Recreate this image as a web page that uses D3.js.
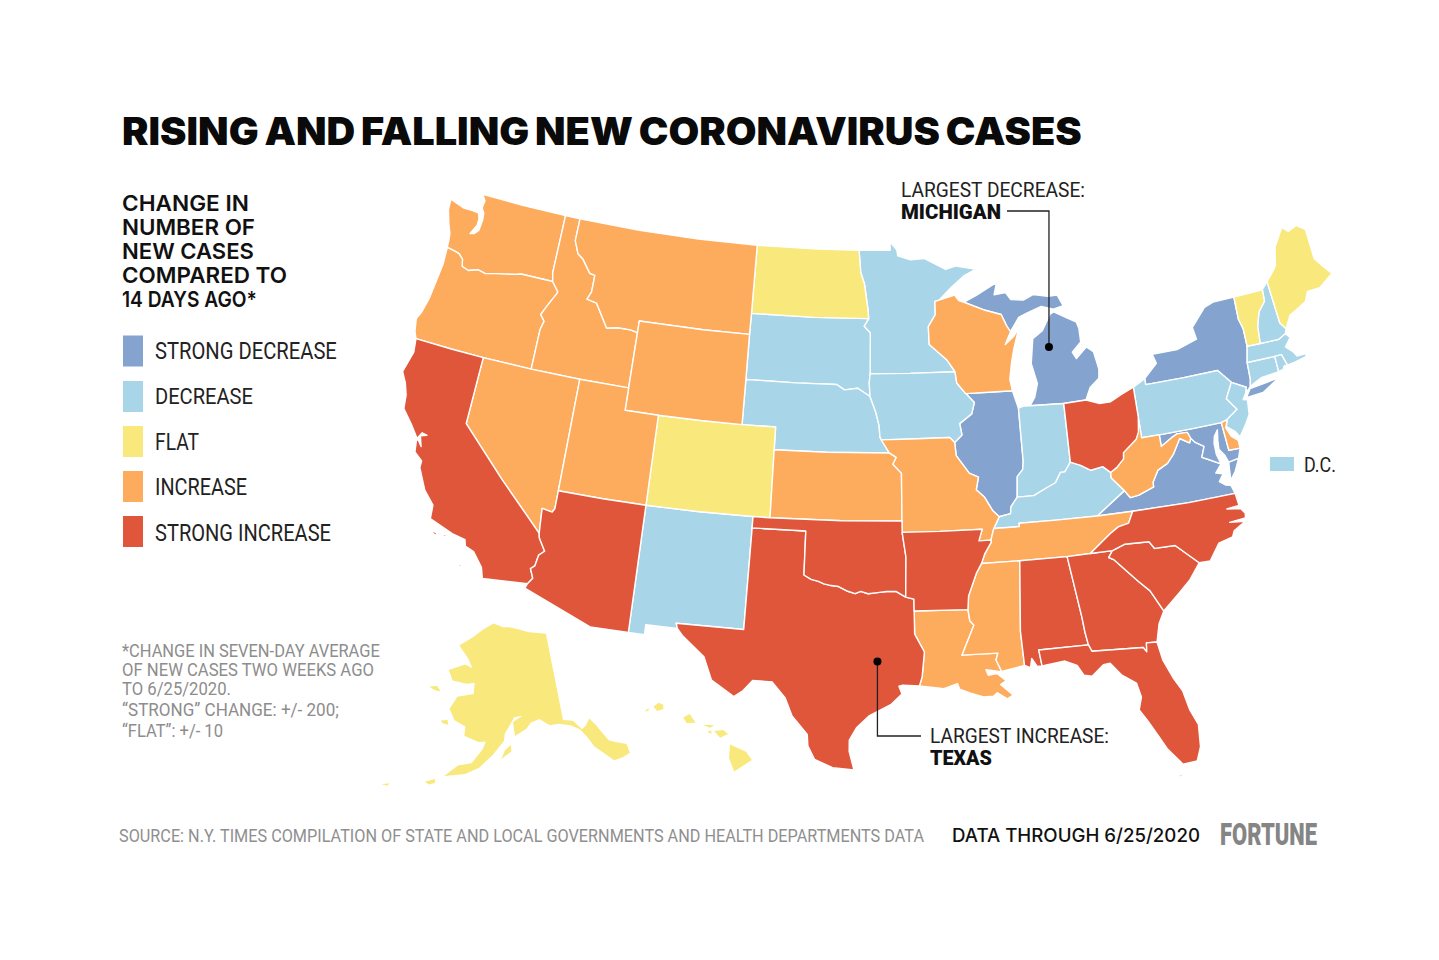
<!DOCTYPE html>
<html><head><meta charset="utf-8">
<script src="https://cdn.jsdelivr.net/npm/d3@7/dist/d3.min.js"></script>
<style>html,body{margin:0;padding:0;background:#fff}svg{display:block}</style>
</head><body><svg id="c" width="1439" height="960"></svg>
<script>
// ---------- status categories ----------
const statusLabels=["STRONG DECREASE","DECREASE","FLAT","INCREASE","STRONG INCREASE"];
const statusColors=["#84a4cf","#a8d5e8","#f9e87c","#fdab5c","#e0563b"];
const strongDecrease=["IL","MI","NY","VA","MD"];
const decrease=["MN","SD","NE","IA","NM","IN","KY","PA","NJ","CT","MA","RI","NH"];
const flat=["ND","CO","ME","VT","AK","HI"];
const increase=["WA","OR","ID","MT","WY","NV","UT","KS","MO","WI","WV","DE","TN","LA","MS"];
const strongIncrease=["CA","AZ","TX","OK","AR","AL","GA","SC","NC","FL","OH"];
const titleText="RISING AND FALLING NEW CORONAVIRUS CASES";
const headingLines=["CHANGE IN","NUMBER OF","NEW CASES","COMPARED TO","14 DAYS AGO*"];
const footnoteLines=["*CHANGE IN SEVEN-DAY AVERAGE","OF NEW CASES TWO WEEKS AGO","TO 6/25/2020.","\u201CSTRONG\u201D CHANGE: +/- 200;","\u201CFLAT\u201D: +/- 10"];

// ---------- boundary arcs: "west-longitude,latitude" ----------
const arcText={
wa_n:"122.76,49 120,49 117.04,49",
wa_coast:"122.76,49 122.5,48.75 122.55,48.4 122.35,48.2 122.3,47.9 122.35,47.4 122.6,47.2 122.85,47.15 122.55,47.6 122.55,47.9 122.7,48.15 123.1,48.17 123.7,48.17 124.7,48.38 124.65,47.9 124.35,47.3 124.1,46.9 124.05,46.65 124,46.27",
wa_or:"124,46.27 123.4,46.2 123.15,46.15 122.85,45.95 122.75,45.65 122.3,45.55 121.7,45.7 121.2,45.62 120.6,45.73 120,45.82 119.3,45.93 119,46 116.92,46",
wa_id:"116.92,46 117.04,46.4 117.04,49",
or_coast:"124,46.27 123.95,45.5 124.05,44.7 124.15,43.9 124.35,43.2 124.55,42.85 124.4,42.3 124.21,42",
or_ca:"124.21,42 122,42 120,42",
or_nv:"120,42 117.03,42",
or_id:"117.03,42 117.03,43.8 116.9,44.2 117.2,44.45 116.85,45 116.5,45.5 116.46,45.6 116.92,46",
ca_coast:"124.21,42 124.1,41.4 124.4,40.45 124.05,40 123.8,39.5 123.7,38.9 123,38.3 122.5,37.8 122.3,38.1 122,38.05 122.35,37.95 122.15,37.5 122.4,37.75 122.5,37.72 122.4,37.2 121.9,36.9 121.9,36.6 121.3,35.7 120.65,35.15 120.6,34.55 119.25,34.15 118.5,34.03 118.4,33.75 117.9,33.6 117.3,33 117.12,32.53",
ca_nv:"120,42 120,39 117.3,37 114.63,35",
ca_az:"114.63,35 114.57,34.8 114.15,34.27 114.43,34.05 114.52,33.55 114.72,33.4 114.5,33 114.72,32.72",
ca_mx:"114.72,32.72 117.12,32.53",
nv_id:"117.03,42 114.04,42",
nv_ut:"114.04,42 114.04,37",
nv_az:"114.04,37 114.04,36.2 114.15,36.03 114.74,36.1 114.63,35",
ut_az:"114.04,37 111.5,37 109.05,37",
az_nm:"109.05,37 109.05,31.33",
az_mx:"109.05,31.33 111.07,31.33 114.81,32.5 114.72,32.72",
ut_co:"109.05,41 109.05,37",
ut_wy:"111.05,42 111.05,41 109.05,41",
id_ut:"111.05,42 114.04,42",
id_wy:"111.05,44.48 111.05,42",
id_mt:"116.05,49 116.05,48 115.7,47.45 115.3,47.25 114.7,46.7 114.35,46.65 114.35,45.9 114.55,45.55 113.9,45.45 113.45,44.95 113,44.45 112.3,44.55 111.5,44.55 111.05,44.48",
id_n:"117.04,49 116.05,49",
mt_wy:"111.05,44.48 111.05,45 107,45 104.06,45",
wy_sd:"104.06,45 104.05,43",
wy_ne:"104.05,43 104.05,41",
wy_co:"104.05,41 106.5,41 109.05,41",
mt_n:"116.05,49 112,49 108,49 104.05,49",
mt_nd:"104.05,49 104.05,45.94",
mt_sd:"104.05,45.94 104.06,45",
nd_n:"104.05,49 100,49 97.23,49",
nd_mn:"97.23,49 97.1,48 96.85,47.5 96.6,46.3 96.56,45.94",
nd_sd:"96.56,45.94 100,45.94 104.05,45.94",
sd_mn:"96.56,45.94 96.85,45.6 96.45,45.3 96.45,43.5",
sd_ia:"96.45,43.5 96.5,43.1 96.45,42.49",
sd_ne:"96.45,42.49 97.2,42.85 98,42.77 98.5,43 101,43 104.05,43",
ne_ia:"96.45,42.49 96.1,41.8 95.9,41.2 95.85,40.7 95.77,40.58",
ne_mo:"95.77,40.58 95.31,40",
ne_ks:"95.31,40 99,40 102.05,40",
ne_co:"104.05,41 102.05,41 102.05,40",
ks_co:"102.05,40 102.04,37",
ok_co:"102.04,37 103,37",
nm_co:"103,37 106,37 109.05,37",
ks_mo:"95.31,40 94.9,39.8 95.1,39.5 94.61,39.1 94.62,37",
ks_ok:"94.62,37 98,37 102.04,37",
nm_ok:"103,37 103,36.5",
ok_tx:"103,36.5 100,36.5 100,34.56 99.6,34.38 99.2,34.3 98.9,34.2 98.6,34.15 98.1,34.1 97.6,33.9 97.2,33.8 96.9,33.9 96.5,33.8 96,33.85 95.5,33.9 95,33.9 94.48,33.64",
ok_ar:"94.48,33.64 94.43,35.4 94.62,36.5",
ok_mo:"94.62,36.5 94.62,37",
nm_tx:"103,36.5 103.05,32 106.62,32 106.53,31.78",
nm_mx:"106.53,31.78 108.2,31.78 108.2,31.33 109.05,31.33",
tx_mx:"106.53,31.78 106.2,31.47 105,30.65 104.7,30.05 104.5,29.65 103.3,29 102.85,29.3 102.4,29.78 101.4,29.77 100.7,29.1 100.3,28.3 99.5,27.5 99.45,27 99.1,26.4 98.2,26.05 97.15,25.96",
tx_coast:"97.15,25.96 97.4,26.8 97.4,27.3 97.05,27.85 96.4,28.4 95.3,28.9 94.75,29.35 94.9,29.7 94.7,29.75 93.85,29.7",
tx_la:"93.85,29.7 93.7,30.1 93.55,31.2 94.04,32 94.04,33.02",
tx_ar:"94.04,33.02 94.04,33.55 94.48,33.64",
ar_la:"94.04,33.02 91.17,33",
ar_ms:"91.17,33 91.1,33.6 90.6,34.6 90.3,35",
ar_tn:"90.3,35 90.1,35.4 89.7,35.9 89.7,36",
mo_ar:"89.7,36 90.37,36 90.15,36.5 92.5,36.5 94.62,36.5",
mo_tn:"89.7,36 89.5,36.5",
mo_ky:"89.5,36.5 89.15,37",
mo_il:"89.15,37 89.5,37.3 89.9,37.9 90.35,38.25 90.18,38.8 90.7,39 91.4,39.8 91.45,40.38",
ia_mo:"91.45,40.38 91.73,40.61 94,40.6 95.77,40.58",
ia_il:"91.45,40.38 91,40.7 91.1,41.2 90.35,41.6 90.15,42.1 90.64,42.51",
ia_wi:"90.64,42.51 91.15,43 91.22,43.5",
mn_ia:"91.22,43.5 94,43.5 96.45,43.5",
mn_wi:"91.22,43.5 91.7,44.05 92.75,44.75 92.77,45.55 92.3,46.07 92.29,46.66 92.02,46.71",
mn_lake:"92.02,46.71 91.2,47.25 90.3,47.75 89.5,48",
mn_n:"89.5,48 90.8,48.2 91.5,48.07 92.9,48.6 93.8,48.55 94.65,48.75 94.7,49 95.15,49.38 95.15,49 97.23,49",
wi_sup:"92.02,46.71 91,46.9 90.75,46.65 90.42,46.56",
wi_mi:"90.42,46.56 89.1,46.14 88.1,45.9 87.8,45.35 87.6,45.1",
wi_lake:"87.6,45.1 88,44.55 87.4,44.9 87.05,45.25 87.5,44.3 87.7,43.75 87.9,43 87.8,42.49",
wi_il:"87.8,42.49 89,42.5 90.64,42.51",
il_lake:"87.8,42.49 87.55,41.75 87.53,41.7",
il_in:"87.53,41.7 87.53,39.35 87.6,39 87.95,38.7 88.05,37.8",
il_ky:"88.05,37.8 88.45,37.4 88.5,37.1 89.15,37",
in_lake:"87.53,41.7 87.2,41.77 86.82,41.76",
in_mi:"86.82,41.76 84.8,41.7",
in_oh:"84.8,41.7 84.82,39.1",
in_ky:"84.82,39.1 85.2,38.7 85.45,38.7 85.8,38.27 86.3,38.1 87.1,37.8 88.05,37.8",
oh_mi:"84.8,41.7 83.45,41.73",
oh_lake:"83.45,41.73 82.7,41.5 82,41.5 81.3,41.75 80.52,41.98",
oh_pa:"80.52,41.98 80.52,40.64",
oh_wv:"80.52,40.64 80.65,40 80.85,39.7 81.7,39.2 81.75,38.93 82.2,38.6 82.6,38.42",
oh_ky:"82.6,38.42 83,38.72 83.7,38.63 84.25,38.9 84.82,39.1",
ky_wv:"82.6,38.42 82.6,38.17 81.97,37.54",
ky_va:"81.97,37.54 83.68,36.6",
ky_tn:"83.68,36.6 86,36.63 88.07,36.65 88.07,36.5 89.5,36.5",
tn_va:"83.68,36.6 81.68,36.59",
tn_nc:"81.68,36.59 82,36.1 82.6,36 83.1,35.75 84.32,35",
tn_ga:"84.32,35 85.6,34.98",
tn_al:"85.6,34.98 88.2,35",
tn_ms:"88.2,35 90.3,35",
ms_al:"88.2,35 88.47,31.9 88.4,30.37",
ms_coast:"88.4,30.37 89.6,30.18",
la_ms:"91.17,33 91.1,32.5 90.9,32.3 91.6,31 89.73,31 89.85,30.7 89.6,30.18",
la_coast:"89.6,30.18 89.8,30.2 90.4,30.3 90.3,30.05 89.85,30.1 89.4,29.75 89.7,29.6 89.1,29.1 89.4,28.95 89.9,29.25 90.1,29.1 90.6,29.1 91.25,29.3 91.8,29.5 91.9,29.75 92.6,29.55 93.85,29.7",
al_ga:"85.6,34.98 85.18,32.3 85.1,31.55 85,31",
al_fl:"85,31 87.6,31 87.5,30.28",
al_coast:"87.5,30.28 87.75,30.28 88,30.65 88.1,30.25 88.4,30.37",
ga_nc:"84.32,35 83.1,35",
ga_sc:"83.1,35 83.35,34.72 83.1,34.6 81.95,33.5 81.4,33 80.85,32.03",
ga_coast:"80.85,32.03 81.2,31.5 81.45,30.72",
ga_fl:"81.45,30.72 82,30.75 82.05,30.36 82.2,30.57 84.86,30.7 85,31",
fl_coast:"81.45,30.72 81.3,29.9 80.9,29 80.55,28.4 80.35,27.5 80.05,26.8 80.13,25.8 80.4,25.2 81.1,25.15 81.75,25.95 82.1,26.6 82.5,27.3 82.85,27.85 82.65,28.4 82.8,29.05 83.5,29.5 84,30.08 84.35,30.05 85,29.6 85.4,29.68 85.7,30.15 86.3,30.4 87.5,30.28",
sc_nc:"83.1,35 82.4,35.2 81.05,35.15 80.8,34.82 79.67,34.8 78.55,33.86",
sc_coast:"78.55,33.86 79.2,33.2 79.9,32.7 80.85,32.03",
nc_coast:"78.55,33.86 77.95,33.85 77.3,34.55 76.5,34.7 76.35,34.95 75.65,35.25 76.5,35.35 75.6,35.4 75.55,35.6 75.75,35.85 76.5,35.95 75.8,36 75.87,36.55",
nc_va:"75.87,36.55 78.5,36.55 81.68,36.59",
va_wv:"81.97,37.54 81.7,37.2 81.2,37.25 80.3,37.5 80.3,37.7 79.9,38.2 79.3,38.42 78.87,38.77 78.35,39.4 77.83,39.13 77.72,39.32",
va_md:"77.72,39.32 77.5,39.1 77.05,38.85 77.3,38.4 76.95,38.25 76.3,37.95",
va_coast:"76.3,37.95 76.7,37.6 76.3,37.5 76.6,37.2 76.3,37 76,36.93 75.87,36.55",
wv_md:"77.72,39.32 77.85,39.6 78.45,39.62 78.8,39.5 79.48,39.2 79.48,39.72",
wv_pa:"79.48,39.72 80.52,39.72 80.52,40.64",
md_pa:"79.48,39.72 77.5,39.72 75.79,39.72",
md_de:"75.79,39.72 75.7,38.46 75.05,38.45",
md_coast:"75.05,38.45 75.25,38.03 75.85,37.95",
md_bay:"75.85,37.95 76,38.3 76.25,38.6 76.2,39 76.1,39.45 76.35,39.2 76.45,38.9 76.45,38.4 76.3,37.95",
va_shore:"75.95,37.15 75.9,37.6 75.85,37.95 75.25,38.03 75.6,37.5 75.95,37.15",
de_pa:"75.79,39.72 75.42,39.8",
de_coast:"75.42,39.8 75.6,39.45 75.4,39.05 75.05,38.8 75.05,38.45",
pa_nj:"75.42,39.8 75.13,39.95 74.72,40.15 75.2,40.7 74.7,41.36",
pa_ny:"74.7,41.36 75.35,42 77.5,42 79.76,42 79.76,42.27",
pa_lake:"79.76,42.27 80.52,41.98",
nj_coast:"75.42,39.8 75.55,39.5 75.1,39.2 74.9,38.93 74.4,39.45 74.1,39.8 74,40.45 74.25,40.5 74.02,40.75 73.9,41",
nj_ny:"73.9,41 74.7,41.36",
ny_lake:"79.76,42.27 78.9,42.85 79.05,43.27 77.5,43.27 76.2,43.55 76.3,44.1 75.3,44.85 74.7,45 73.35,45.01",
ny_vt:"73.35,45.01 73.4,44 73.25,43.55 73.27,42.75",
ny_ma:"73.27,42.75 73.5,42.05",
ny_ct:"73.5,42.05 73.55,41.3 73.65,41",
ny_coast:"73.65,41 74,40.75 73.9,41",
long_island:"74.03,40.55 73,40.6 71.87,41.07 72.6,41 73.7,40.9 74.03,40.55",
ct_ma:"73.5,42.05 71.8,42.02",
ct_ri:"71.8,42.02 71.8,41.32",
ct_coast:"71.8,41.32 72.9,41.25 73.65,41",
ri_ma:"71.8,42.02 71.38,42.02 71.2,41.5",
ri_coast:"71.2,41.5 71.4,41.5 71.5,41.37 71.8,41.32",
ma_vt:"73.27,42.75 72.46,42.73",
ma_nh:"72.46,42.73 71.3,42.7 70.82,42.87",
ma_coast:"70.82,42.87 70.6,42.65 71.03,42.3 70.65,42 70.5,41.78 70,41.78 70.05,42.05 70.25,42.07 69.95,41.9 69.97,41.65 70.65,41.55 71.2,41.5",
vt_n:"73.35,45.01 71.5,45.01",
vt_nh:"71.5,45.01 71.55,44.5 72.05,44.1 72.35,43.5 72.46,42.73",
nh_n:"71.5,45.01 71.08,45.3",
nh_me:"71.08,45.3 70.98,43.4 70.7,43.07",
nh_coast:"70.7,43.07 70.82,42.87",
me_coast:"70.7,43.07 70.25,43.6 69.8,43.75 69.1,44 68.8,44.4 68,44.4 67,44.85 67.45,45.3 67.8,45.7 67.8,47.07 68.3,47.36 68.9,47.2 69.23,47.46 70,46.7 70.3,45.9 70.4,45.8 71.08,45.3",
mi_up:"87.6,45.1 87,45.7 86.5,45.85 85.5,46.08 84.75,45.9 84.1,46 84.4,46.5 85,46.5 85.95,46.65 86.6,46.45 87.4,46.52 87.7,46.85 88.45,46.8 88.2,47.4 87.8,47.47 88.6,47.2 89.6,46.83 90.42,46.56",
mi_lp:"83.45,41.73 83.1,42.25 82.5,42.6 82.42,43 82.6,43.8 83,44.05 83.7,43.6 83.9,43.9 83.3,44.3 83.3,44.9 83.4,45.2 84.1,45.5 84.75,45.78 85,45.7 85.6,45 86.25,44.7 86.5,43.6 86.25,42.7 86.5,42.1 86.82,41.76",
ak_main:"141,69.65 141,60.3 139,60 137.5,58.9 136.5,59.2 135.5,59.8 134.5,58.9 133.8,58 133,57 131.9,56.6 130,56 130,55 131.5,54.8 133.2,54.8 134.5,55.8 136,56.8 136.9,58 138,59 139.7,59.6 142,60 144,60 146,60.8 148,60.5 149,59.9 151.5,59.2 151.8,60.7 150,61.2 149.7,61.3 151.5,61.2 152.6,60.3 153.6,59.5 153.8,58.7 156,57.2 158.5,55.8 161,55 163.3,54.7 164.8,54.5 162.5,55.8 160,56.2 158,57.8 157.5,58.6 159,58.5 162,59 162,60 164.5,60.5 166,61.6 164.7,63 161,63.5 161,64.7 163,64.5 166.5,64.6 168,65.6 164,66.5 162,66.2 163.5,67.2 166.5,68.4 163,69.5 160,70.5 157,71.2 154,70.8 152,70.8 149,70.5 146,70.1 141,69.65",
ak_kodiak:"154.3,56.8 152.3,57.6 152.4,58.3 153.6,57.7 154.3,56.8",
ak_stl:"171.7,63.4 170,63.7 168.8,63.2 170.3,63.2 171.7,63.4",
ak_nuni:"167.4,60.2 166,60.4 165.7,59.9 166.9,59.95 167.4,60.2",
ak_unal:"168,53.5 166.3,54 166.2,53.6 167.2,53.3 168,53.5",
ak_atka:"175.2,52.05 174,52.4 174.1,52.1 175.2,52.05",
hi_big:"155.9,20.25 155.1,19.9 154.8,19.5 155.7,18.95 155.95,19.6 155.9,20.25",
hi_maui:"156.7,20.9 156.25,20.95 156,20.75 156.4,20.58 156.7,20.9",
hi_lana:"157.05,20.88 156.85,20.92 156.85,20.75 157.05,20.88",
hi_molo:"157.3,21.2 156.7,21.17 156.9,21.05 157.3,21.2",
hi_oahu:"158.28,21.55 157.95,21.72 157.65,21.3 158.1,21.28 158.28,21.55",
hi_kaua:"159.8,22.05 159.55,22.25 159.3,22.15 159.3,21.95 159.6,21.85 159.8,22.05",
hi_niih:"160.25,21.8 160.05,22 160.05,21.85 160.25,21.8",
ca_cruz:"120,34 119.5,34.05 119.6,33.95 120,34",
ca_rosa:"120.5,34.05 120.05,34.02 120.1,33.9 120.5,34.05",
ca_cat:"118.6,33.48 118.35,33.4 118.35,33.32 118.6,33.48",
ca_clem:"118.6,33.03 118.35,32.85 118.45,32.8 118.6,33.03",
fl_keys:"81.8,24.55 81.3,24.7 80.6,25 81.3,24.62 81.8,24.55"
};

// ---------- state rings, each a chain of arcs ----------
const stateRings={
WA:[["wa_n","wa_coast","wa_or","wa_id"]],
OR:[["wa_or","or_coast","or_ca","or_nv","or_id"]],
CA:[["or_ca","ca_coast","ca_mx","ca_az","ca_nv"],["ca_cruz"],["ca_rosa"],["ca_cat"],["ca_clem"]],
NV:[["or_nv","nv_id","nv_ut","nv_az","ca_nv"]],
ID:[["wa_id","id_n","id_mt","id_wy","id_ut","nv_id","or_id"]],
MT:[["mt_n","mt_nd","mt_sd","mt_wy","id_mt"]],
WY:[["mt_wy","id_wy","ut_wy","wy_co","wy_ne","wy_sd"]],
UT:[["id_ut","ut_wy","ut_co","ut_az","nv_ut"]],
AZ:[["ut_az","az_nm","az_mx","ca_az","nv_az"]],
CO:[["wy_co","ne_co","ks_co","ok_co","nm_co","ut_co"]],
NM:[["nm_co","nm_ok","nm_tx","nm_mx","az_nm"]],
ND:[["mt_nd","nd_n","nd_mn","nd_sd"]],
SD:[["nd_sd","sd_mn","sd_ia","sd_ne","wy_sd","mt_sd"]],
NE:[["sd_ne","ne_ia","ne_mo","ne_ks","ne_co","wy_ne"]],
KS:[["ne_ks","ks_mo","ks_ok","ks_co"]],
OK:[["ok_co","nm_ok","ok_tx","ok_ar","ok_mo","ks_ok"]],
TX:[["nm_tx","tx_mx","tx_coast","tx_la","tx_ar","ok_tx"]],
MN:[["mn_n","mn_lake","mn_wi","mn_ia","sd_mn","nd_mn"]],
IA:[["mn_ia","ia_wi","ia_il","ia_mo","ne_ia","sd_ia"]],
MO:[["ia_mo","ne_mo","ks_mo","ok_mo","mo_ar","mo_tn","mo_ky","mo_il"]],
AR:[["ok_ar","mo_ar","ar_tn","ar_ms","ar_la","tx_ar"]],
LA:[["ar_la","la_ms","la_coast","tx_la"]],
WI:[["mn_wi","wi_sup","wi_mi","wi_lake","wi_il","ia_wi"]],
IL:[["wi_il","il_lake","il_in","il_ky","mo_il","ia_il"]],
IN:[["in_lake","in_mi","in_oh","in_ky","il_in"]],
OH:[["in_oh","oh_mi","oh_lake","oh_pa","oh_wv","oh_ky"]],
KY:[["in_ky","il_ky","mo_ky","ky_tn","ky_va","ky_wv","oh_ky"]],
TN:[["ky_tn","mo_tn","ar_tn","tn_ms","tn_al","tn_ga","tn_nc","tn_va"]],
MS:[["ar_ms","tn_ms","ms_al","ms_coast","la_ms"]],
AL:[["tn_al","al_ga","al_fl","al_coast","ms_al"]],
GA:[["tn_ga","ga_nc","ga_sc","ga_coast","ga_fl","al_ga"]],
FL:[["al_fl","ga_fl","fl_coast"],["fl_keys"]],
SC:[["ga_sc","sc_nc","sc_coast"]],
NC:[["ga_nc","sc_nc","nc_coast","nc_va","tn_nc"]],
VA:[["nc_va","tn_va","ky_va","va_wv","va_md","va_coast"],["va_shore"]],
WV:[["oh_wv","ky_wv","va_wv","wv_md","wv_pa"]],
MD:[["wv_md","md_pa","md_de","md_coast","md_bay","va_md"]],
DE:[["md_de","de_pa","de_coast"]],
PA:[["oh_pa","wv_pa","md_pa","de_pa","pa_nj","pa_ny","pa_lake"]],
NJ:[["pa_nj","nj_coast","nj_ny"]],
NY:[["ny_lake","ny_vt","ny_ma","ny_ct","ny_coast","nj_ny","pa_ny"],["long_island"]],
CT:[["ny_ct","ct_ma","ct_ri","ct_coast"]],
RI:[["ct_ri","ri_ma","ri_coast"]],
MA:[["ny_ma","ma_vt","ma_nh","ma_coast","ri_ma","ct_ma"]],
VT:[["ny_vt","vt_n","vt_nh","ma_vt"]],
NH:[["vt_nh","nh_n","nh_me","nh_coast","ma_nh"]],
ME:[["nh_me","me_coast"]],
MI:[["wi_mi","mi_up"],["in_mi","oh_mi","mi_lp"]],
AK:[["ak_main"],["ak_kodiak"],["ak_stl"],["ak_nuni"],["ak_unal"],["ak_atka"]],
HI:[["hi_big"],["hi_maui"],["hi_lana"],["hi_molo"],["hi_oahu"],["hi_kaua"],["hi_niih"]]
};

// ---------- build geometry ----------
const arcs={};
for(const k in arcText) arcs[k]=arcText[k].trim().split(/\s+/).map(p=>{const [a,b]=p.split(",");return [-a,+b];});
const same=(a,b)=>Math.abs(a[0]-b[0])<1e-6&&Math.abs(a[1]-b[1])<1e-6;
function chain(names,state){
  let pts=arcs[names[0]].slice();
  if(names.length>1){const n=arcs[names[1]];
    if(!same(pts[pts.length-1],n[0])&&!same(pts[pts.length-1],n[n.length-1])) pts.reverse();}
  for(const nm of names.slice(1)){
    let a=arcs[nm].slice();const e=pts[pts.length-1];
    if(same(e,a[a.length-1])) a.reverse();
    else if(!same(e,a[0])) throw new Error("gap "+state+" "+nm);
    pts=pts.concat(a.slice(1));
  }
  if(!same(pts[0],pts[pts.length-1])) throw new Error("open "+state+" "+names);
  return pts;
}
function ringOK(r){const g={type:"Polygon",coordinates:[r]};return d3.geoArea(g)>2*Math.PI?r.slice().reverse():r;}
const groups=[strongDecrease,decrease,flat,increase,strongIncrease];
const features=[];
groups.forEach((g,i)=>g.forEach(s=>features.push({type:"Feature",id:s,properties:{status:i},
  geometry:{type:"MultiPolygon",coordinates:stateRings[s].map(n=>[ringOK(chain(n,s))])}})));

// ---------- projections ----------
function anchored(p,lonlat,xy){p.translate([0,0]);const q=p(lonlat);return p.translate([xy[0]-q[0],xy[1]-q[1]]);}
const projection=d3.geoConicEqualArea().rotate([96,0]).center([-0.6,38.7]).parallels([29.5,45.5]).scale(1289).translate([867,482.5]);
const akProjection=anchored(d3.geoConicEqualArea().rotate([154,0]).parallels([55,65]).scale(540),[-141,60.3],[563,720]);
const hiProjection=anchored(d3.geoConicEqualArea().rotate([157,0]).parallels([8,18]).scale(1200),[-155.5,19.6],[738,758]);
const paths={def:d3.geoPath(projection),AK:d3.geoPath(akProjection),HI:d3.geoPath(hiProjection)};

// ---------- draw ----------
const svg=d3.select("#c");
const color=d3.scaleOrdinal().domain(d3.range(5)).range(statusColors);
svg.append("g").selectAll("path").data(features).join("path")
  .attr("d",d=>(paths[d.id]||paths.def)(d)).attr("fill",d=>color(d.properties.status))
  .attr("stroke",d=>d.id==="AK"||d.id==="HI"?"none":"#fff").attr("stroke-width",1.4).attr("stroke-linejoin","round");

function label(x,y,str,size,weight,fill,w,font){
  const t=svg.append("text").text(str)
    .attr("font-family",font||"Roboto, sans-serif").attr("font-size",size).attr("font-weight",weight).attr("fill",fill);
  const k=w?w/t.node().getComputedTextLength():1;
  t.attr("transform",`translate(${x},${y}) scale(${k},1)`);
  return t;
}
const title=label(122,145,titleText,38,900,"#0a0a0a",null,"Inter, sans-serif").attr("word-spacing",-2);
title.attr("transform",`translate(122,145) scale(${960/title.node().getComputedTextLength()},1)`);
const headW=[127,133,132,165,135],headY=[210.5,234.5,258.5,282.5,306.5];
headingLines.forEach((s,i)=>label(122,headY[i],s,22,600,"#111",headW[i],"Inter, sans-serif"));
const legY=[335.5,381,426,471,516],legW=[182,98,44,92,176],legText=[359,404,450,495,541];
statusLabels.forEach((s,i)=>{
  svg.append("rect").attr("x",123).attr("y",legY[i]).attr("width",20).attr("height",31).attr("fill",statusColors[i]);
  label(155,legText[i],s,23,400,"#222",legW[i]);
});
const fnY=[657,676,695,716,737],fnW=[258,252,109,217,101];
footnoteLines.forEach((s,i)=>label(122,fnY[i],s,17.5,400,"#8d8d8d",fnW[i]));
label(119,842,"SOURCE: N.Y. TIMES COMPILATION OF STATE AND LOCAL GOVERNMENTS AND HEALTH DEPARTMENTS DATA",18,400,"#8f8f8f",806);
label(952,842,"DATA THROUGH 6/25/2020",19,500,"#111",248,"Inter, sans-serif");
label(1220,845,"FORTUNE",32,900,"#858585",97);
svg.append("rect").attr("x",1270).attr("y",457).attr("width",24).attr("height",14).attr("fill",statusColors[1]);
label(1304,472,"D.C.",20,400,"#222",32);

// annotations
const miDot=projection([-85.3,44.25]), txDot=projection([-96,30.8]);
const ink="#222";
label(901,197,"LARGEST DECREASE:",21,400,"#222",184);
label(901,219,"MICHIGAN",21,900,"#111",100);
svg.append("path").attr("d",d3.line()([[1007,211],[miDot[0],211],miDot])).attr("fill","none").attr("stroke",ink).attr("stroke-width",1.3);
svg.append("circle").attr("cx",miDot[0]).attr("cy",miDot[1]).attr("r",4).attr("fill","#000");
label(930,743,"LARGEST INCREASE:",21,400,"#222",179);
label(930,765,"TEXAS",21,900,"#111",62);
svg.append("path").attr("d",d3.line()([txDot,[txDot[0],736],[921,736]])).attr("fill","none").attr("stroke",ink).attr("stroke-width",1.3);
svg.append("circle").attr("cx",txDot[0]).attr("cy",txDot[1]).attr("r",4).attr("fill","#000");
</script></body></html>
